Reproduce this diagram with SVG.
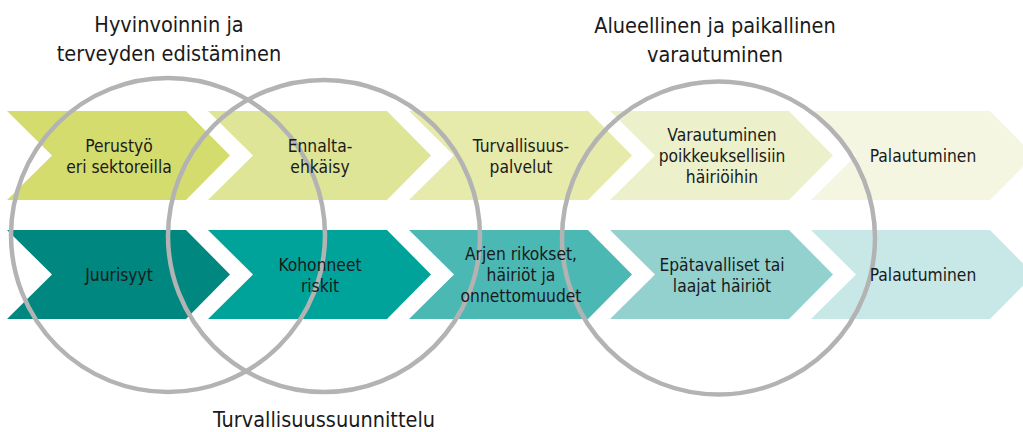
<svg xmlns="http://www.w3.org/2000/svg" width="1023" height="432" viewBox="0 0 1023 432">
<style>
.t{font-family:"DejaVu Sans Condensed","Liberation Sans Narrow","Liberation Sans",sans-serif;fill:#1a1a1a;text-anchor:middle}
.c{font-size:17.3px}
.h{font-size:21.5px}
.ring{fill:none;stroke:#b3b3b3;stroke-width:4.5}
</style>
<rect width="1023" height="432" fill="#ffffff"/>
<g id="row1">
<g id="n-perustyo"><polygon points="7,111 186,111 230,155.5 186,200 7,200 52,155.5" fill="#d5dc6e"/></g>
<g id="n-ennalta"><polygon points="208,111 387,111 431,155.5 387,200 208,200 253,155.5" fill="#dfe596"/></g>
<g id="n-turvallisuuspalvelut"><polygon points="409,111 588,111 632,155.5 588,200 409,200 454,155.5" fill="#e6eaaa"/></g>
<g id="n-varautuminen"><polygon points="610,111 789,111 833,155.5 789,200 610,200 655,155.5" fill="#edf1cb"/></g>
<g id="n-palautuminen1"><polygon points="811,111 990,111 1034,155.5 990,200 811,200 856,155.5" fill="#f4f6e2"/></g>
</g>
<g id="row2">
<g id="n-juurisyyt"><polygon points="7,230 186,230 230,274.5 186,319 7,319 52,274.5" fill="#00877f"/></g>
<g id="n-kohonneet"><polygon points="208,230 387,230 431,274.5 387,319 208,319 253,274.5" fill="#00a39a"/></g>
<g id="n-arjen"><polygon points="409,230 588,230 632,274.5 588,319 409,319 454,274.5" fill="#4cb8b4"/></g>
<g id="n-epatavalliset"><polygon points="610,230 789,230 833,274.5 789,319 610,319 655,274.5" fill="#93d1cf"/></g>
<g id="n-palautuminen2"><polygon points="811,230 990,230 1034,274.5 990,319 811,319 856,274.5" fill="#c8e8e8"/></g>
</g>
<g id="connectors">
<circle id="ring-hyvinvointi" class="ring" cx="168" cy="235" r="157"/>
<circle id="ring-turvallisuus" class="ring" cx="324" cy="236" r="156"/>
<circle id="ring-varautuminen" class="ring" cx="718.5" cy="238" r="156.5"/>
</g>
<g id="labels">
<text class="t c" x="119"><tspan x="119" y="152">Perustyö</tspan><tspan x="119" y="173">eri sektoreilla</tspan></text>
<text class="t c" x="320"><tspan x="320" y="152">Ennalta-</tspan><tspan x="320" y="173">ehkäisy</tspan></text>
<text class="t c" x="521"><tspan x="521" y="152">Turvallisuus-</tspan><tspan x="521" y="173">palvelut</tspan></text>
<text class="t c" x="722"><tspan x="722" y="141">Varautuminen</tspan><tspan x="722" y="162">poikkeuksellisiin</tspan><tspan x="722" y="183">häiriöihin</tspan></text>
<text class="t c" x="923" y="162">Palautuminen</text>
<text class="t c" x="119" y="281">Juurisyyt</text>
<text class="t c" x="320"><tspan x="320" y="271">Kohonneet</tspan><tspan x="320" y="292">riskit</tspan></text>
<text class="t c" x="521"><tspan x="521" y="260">Arjen rikokset,</tspan><tspan x="521" y="281">häiriöt ja</tspan><tspan x="521" y="302">onnettomuudet</tspan></text>
<text class="t c" x="722"><tspan x="722" y="271">Epätavalliset tai</tspan><tspan x="722" y="292">laajat häiriöt</tspan></text>
<text class="t c" x="923" y="281">Palautuminen</text>
</g>
<g id="titles">
<text class="t h" x="169"><tspan x="169" y="32">Hyvinvoinnin ja</tspan><tspan x="169" y="61">terveyden edistäminen</tspan></text>
<text class="t h" x="715"><tspan x="715" y="33">Alueellinen ja paikallinen</tspan><tspan x="715" y="62">varautuminen</tspan></text>
<text class="t h" x="324" y="427">Turvallisuussuunnittelu</text>
</g>
</svg>
